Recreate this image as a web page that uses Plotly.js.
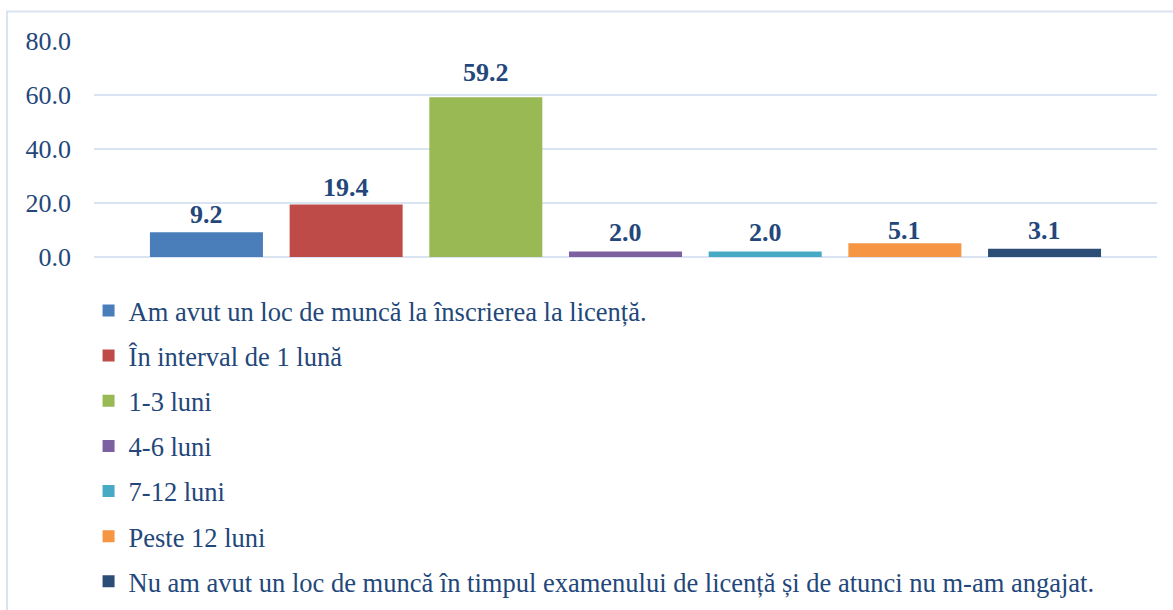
<!DOCTYPE html>
<html><head><meta charset="utf-8">
<script src="https://cdn.plot.ly/plotly-3.0.1.min.js"></script>
<style>html,body{margin:0;padding:0;background:#fff;}#chart{width:1173px;height:610px;}</style>
</head><body><div id="chart"></div>
<script>
const categories = [
  "Am avut un loc de muncă la înscrierea la licență.",
  "În interval de 1 lună",
  "1-3 luni",
  "4-6 luni",
  "7-12 luni",
  "Peste 12 luni",
  "Nu am avut un loc de muncă în timpul examenului de licență și de atunci nu m-am angajat."
];
const values = [9.2, 19.4, 59.2, 2.0, 2.0, 5.1, 3.1];
const colors = ["#4A7EBB", "#BE4B48", "#98B954", "#7D60A0", "#46AAC5", "#F69544", "#2C4D75"];
const tickVals = [0, 20, 40, 60, 80];
const tickText = ["0.0", "20.0", "40.0", "60.0", "80.0"];

const textColor = "#23477A";
const serif = "Liberation Serif";
// extra vertical offset (px) of each value label above its bar
const labelLift = [0, 0, 7, 2, 2, -5, 1];

const traces = categories.map((name, i) => ({
  type: "bar",
  name: name,
  x: [name],
  y: [values[i]],
  width: 0.809,
  legendgroup: "g" + i,
  marker: {color: colors[i]},
  hoverinfo: "skip"
}));

const annotations = categories.map((name, i) => ({
  x: name, y: values[i], xref: "x", yref: "y",
  text: "<b>" + values[i].toFixed(1) + "</b>",
  showarrow: false, yanchor: "bottom", xanchor: "center",
  yshift: 1 + labelLift[i],
  font: {family: serif, size: 26, color: textColor}
}));

const layout = {
  width: 1173, height: 610,
  font: {family: serif, color: textColor},
  margin: {l: 94, r: 16, t: 40.5, b: 352.5, pad: 0, autoexpand: false},
  paper_bgcolor: "#fff", plot_bgcolor: "#fff",
  barmode: "overlay",
  xaxis: {type: "category", categoryorder: "array", categoryarray: categories,
          range: [-0.805, 6.805], showticklabels: false, showgrid: false,
          zeroline: false, showline: false, ticks: "", fixedrange: true},
  yaxis: {
    range: [0, 80], tickvals: tickVals, ticktext: tickText,
    showgrid: true, gridcolor: "#D9E3F1", gridwidth: 2,
    zeroline: true, zerolinecolor: "#D9E3F1", zerolinewidth: 2,
    showline: false, ticks: "", ticklabelstandoff: 22,
    tickfont: {family: serif, size: 26, color: textColor}
  },
  showlegend: true,
  legend: {
    orientation: "v", xref: "container", yref: "container",
    x: 0.0755, y: 0.530, xanchor: "left", yanchor: "top",
    traceorder: "grouped", tracegroupgap: 7.7, maxheight: 2000,
    font: {family: serif, size: 26.5, color: textColor},
    bgcolor: "rgba(0,0,0,0)"
  },
  annotations: annotations,
  shapes: [{
    type: "rect", xref: "paper", yref: "paper",
    x0: -0.0818, x1: 1.03, y0: -1.65, y1: 1.136,
    line: {color: "#D9E3F1", width: 2}, fillcolor: "rgba(0,0,0,0)", layer: "below"
  }]
};

Plotly.newPlot("chart", traces, layout, {displayModeBar: false, staticPlot: true});
</script></body></html>
